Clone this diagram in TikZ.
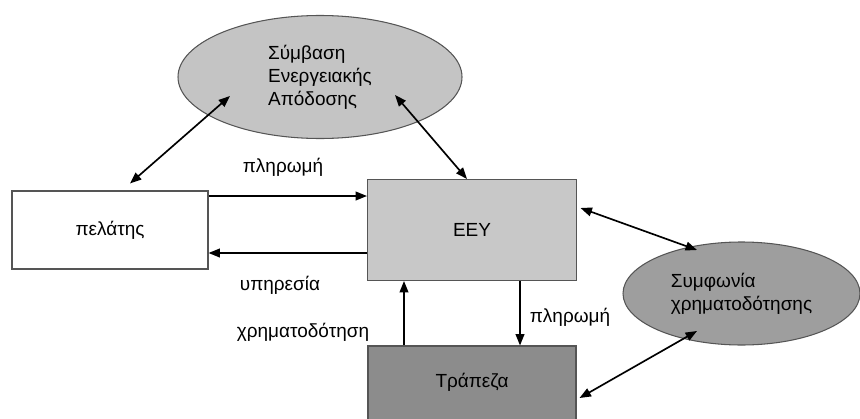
\documentclass[tikz,border=0pt]{standalone}
\usepackage{fontspec}
\setmainfont{Liberation Sans}
\usepackage{tikz}
\usetikzlibrary{arrows.meta,positioning,shapes.geometric}
\definecolor{ellgray}{RGB}{196,196,196}
\definecolor{eeygray}{RGB}{200,200,200}
\definecolor{bankgray}{RGB}{140,140,140}
\definecolor{agrgray}{RGB}{158,158,158}
\definecolor{edgegray}{RGB}{85,85,85}
\tikzset{
  >=Stealth,
  box/.style={rectangle, draw=edgegray, line width=0.6pt, inner sep=0pt},
  ell/.style={ellipse, draw=edgegray, line width=0.6pt, inner sep=0pt, align=left},
  tr/.style={-{Triangle[length=6.5pt,width=5pt]}, line width=0.95pt},
  dtr/.style={{Triangle[length=6.5pt,width=5pt]}-{Triangle[length=6.5pt,width=5pt]}, line width=0.95pt},
  lbl/.style={inner sep=0pt}
}

\begin{document}
\begin{tikzpicture}[font=\fontsize{10.8}{13}\selectfont]
    \useasboundingbox (0, 0) rectangle (17.2, 8.36);

    % Ellipses
    \node[ell, fill=ellgray, minimum width=5.68cm, minimum height=2.46cm] (symb) at (6.4, 6.82) {Σύμβαση\\Ενεργειακής\\Απόδοσης};
    \node[ell, fill=agrgray, minimum width=4.74cm, minimum height=2.06cm] (symf) at (14.83, 2.49) {Συμφωνία\\χρηματοδότησης};

    % Boxes
    \node[box, fill=white, minimum width=3.92cm, minimum height=1.56cm] (pel) at (2.2, 3.76) {πελάτης};
    \node[box, fill=eeygray, minimum width=4.18cm, minimum height=2.02cm] (eey) at (9.44, 3.76) {ΕΕΥ};
    \node[box, fill=bankgray, minimum width=4.16cm, minimum height=1.6cm] (trap) at (9.44, 0.64) {};
    \node (trapt) at (9.44, 0.72) {Τράπεζα};

    % Contract arrows
    \draw[dtr] ([xshift=0.4cm, yshift=0.14cm]pel.north) -- ([shift={(-1.8,-0.38)}]symb.center);
    \draw[dtr] ([xshift=-0.1cm]eey.north) -- ([shift={(1.5,-0.36)}]symb.center);

    % Client <-> EEY
    \draw[tr] ([yshift=0.68cm]pel.east) -- ([yshift=0.68cm]eey.west);
    \draw[tr] ([yshift=-0.46cm]eey.west) -- ([yshift=-0.46cm]pel.east);
    \node[lbl] (pl1) at (5.66, 5.02) {πληρωμή};
    \node[lbl] (yp) at (5.6, 2.66) {υπηρεσία};

    % Bank <-> EEY
    \draw[tr] ([xshift=-1.36cm]trap.north) -- ([xshift=-1.36cm]eey.south);
    \draw[tr] ([xshift=0.96cm]eey.south) -- ([xshift=0.96cm]trap.north);
    \node[lbl] (xr) at (6.06, 1.72) {χρηματοδότηση};
    \node[lbl] (pl2) at (11.4, 2.02) {πληρωμή};

    % Financing agreement
    \draw[dtr] ([xshift=0.07cm, yshift=0.44cm]eey.east) -- ([shift={(-0.89,0.87)}]symf.center);
    \draw[dtr] ([shift={(-0.89,-0.75)}]symf.center) -- ([xshift=0.06cm, yshift=-0.32cm]trap.east |- trapt.center);
\end{tikzpicture}
\end{document}
